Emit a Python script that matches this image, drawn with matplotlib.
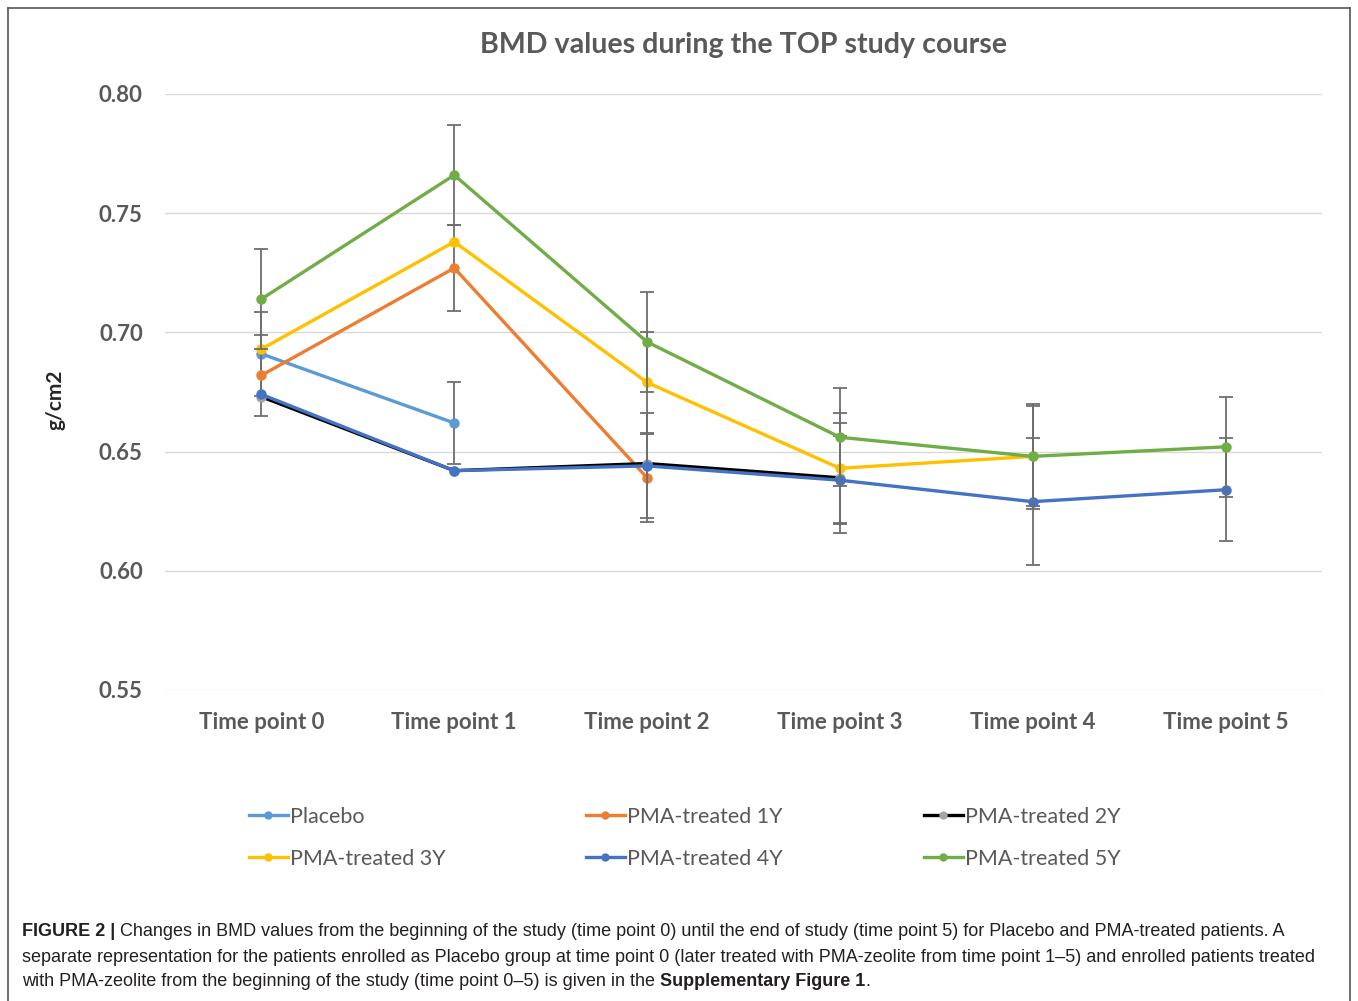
import numpy as np
import matplotlib
matplotlib.use("Agg")
import matplotlib.pyplot as plt
from matplotlib.lines import Line2D

nan = np.nan

time_points = ["Time point 0", "Time point 1", "Time point 2",
               "Time point 3", "Time point 4", "Time point 5"]

placebo = [0.691, 0.662, nan, nan, nan, nan]
placebo_err = [0.0176, 0.017, nan, nan, nan, nan]
pma_1y = [0.682, 0.727, 0.639, nan, nan, nan]
pma_1y_err = [0.017, 0.018, 0.0185, nan, nan, nan]
pma_2y = [0.673, 0.642, 0.645, 0.639, nan, nan]
pma_2y_err = [nan, nan, nan, 0.023, nan, nan]
pma_3y = [0.693, 0.738, 0.679, 0.643, 0.648, nan]
pma_3y_err = [nan, nan, 0.021, 0.023, 0.021, nan]
pma_4y = [0.674, 0.642, 0.644, 0.638, 0.629, 0.634]
pma_4y_err = [nan, nan, 0.022, 0.0185, 0.0265, 0.0215]
pma_5y = [0.714, 0.766, 0.696, 0.656, 0.648, 0.652]
pma_5y_err = [0.021, 0.021, 0.021, 0.0206, 0.022, 0.021]

labels = ["Placebo", "PMA-treated 1Y", "PMA-treated 2Y",
          "PMA-treated 3Y", "PMA-treated 4Y", "PMA-treated 5Y"]
values = [placebo, pma_1y, pma_2y, pma_3y, pma_4y, pma_5y]
errors = [placebo_err, pma_1y_err, pma_2y_err, pma_3y_err, pma_4y_err, pma_5y_err]
colors = ["#5B9BD5", "#ED7D31", "#000000", "#FFC000", "#4472C4", "#70AD47"]
marker_colors = ["#5B9BD5", "#ED7D31", "#A5A5A5", "#FFC000", "#4472C4", "#70AD47"]

W, H = 1358, 1001
fig = plt.figure(figsize=(W / 100, H / 100), dpi=100)
ax = fig.add_axes([165 / W, 1 - 690 / H, (1322 - 165) / W, (690 - 94) / H])

x = np.arange(len(time_points))
grey_txt = "#595959"

for i in range(len(labels)):
    ax.errorbar(x, values[i], yerr=errors[i], fmt="none", ecolor="#6E6E6E",
                elinewidth=1.3, capsize=5, capthick=1.3, zorder=2 + i)
    ax.plot(x, values[i], color=colors[i], lw=2.4, marker="o", markersize=6.5,
            markerfacecolor=marker_colors[i], markeredgecolor=marker_colors[i],
            zorder=2.5 + i)

ax.set_xlim(-0.5, 5.5)
ax.set_ylim(0.55, 0.80)
ax.set_yticks([0.55, 0.60, 0.65, 0.70, 0.75, 0.80])
ax.set_yticklabels(["%.2f" % v for v in [0.55, 0.60, 0.65, 0.70, 0.75, 0.80]])
ax.set_xticks(x)
ax.set_xticklabels(time_points)
ax.grid(axis="y", color="#D9D9D9", lw=1)
ax.set_axisbelow(True)
for s in ax.spines.values():
    s.set_visible(False)
ax.tick_params(length=0, labelsize=16, labelcolor=grey_txt)
ax.tick_params(axis="x", pad=16)
ax.tick_params(axis="y", pad=16)
for t in ax.get_xticklabels() + ax.get_yticklabels():
    t.set_fontfamily("Lato")
    t.set_fontweight("bold")

fig.text(743 / W, 1 - 45 / H, "BMD values during the TOP study course",
         ha="center", va="center", fontsize=20.6, color=grey_txt,
         family="Lato", weight="bold")
fig.text(55 / W, 1 - 400 / H, "g/cm2", rotation=90, ha="center", va="center",
         fontsize=15, color="#262626", family="Lato", weight="bold")

# legend, three columns
handles = [Line2D([], [], color=colors[i], lw=2.4, marker="o", markersize=5,
                  markerfacecolor=marker_colors[i], markeredgecolor=marker_colors[i])
           for i in range(len(labels))]
col_x = [249, 586, 924]
for c in range(3):
    idx = [c, c + 3]
    fig.legend([handles[k] for k in idx], [labels[k] for k in idx],
               loc="upper left", bbox_to_anchor=(col_x[c] / W, 1 - 807 / H),
               frameon=False, handlelength=1.8, handletextpad=0.1,
               labelspacing=1.0, borderpad=0, borderaxespad=0,
               labelcolor=grey_txt, prop={"family": "Lato", "size": 15.5})

# frame round the figure
frame_kw = dict(color="#555555", lw=1.2, transform=fig.transFigure)
fig.add_artist(Line2D([8 / W, 1350 / W], [1 - 8 / H, 1 - 8 / H], **frame_kw))
fig.add_artist(Line2D([8 / W, 8 / W], [0, 1 - 8 / H], **frame_kw))
fig.add_artist(Line2D([1350 / W, 1350 / W], [0, 1 - 8 / H], **frame_kw))

# caption
renderer = fig.canvas.get_renderer()
cap_kw = dict(fontsize=13, color="#231F20", family="Liberation Sans", va="center")


def chain(parts, x0, y):
    xx = x0 / W
    for txt, weight in parts:
        t = fig.text(xx, 1 - y / H, txt, weight=weight, **cap_kw)
        bb = t.get_window_extent(renderer)
        xx = bb.x1 / W


chain([("FIGURE 2 |", "bold"),
       (" Changes in BMD values from the beginning of the study (time point 0) until the end of study "
        "(time point 5) for Placebo and PMA-treated patients. A", "normal")], 22, 932)
chain([("separate representation for the patients enrolled as Placebo group at time point 0 (later treated "
        "with PMA-zeolite from time point 1\u20135) and enrolled patients treated", "normal")], 22, 957)
chain([("with PMA-zeolite from the beginning of the study (time point 0\u20135) is given in the ", "normal"),
       ("Supplementary Figure 1", "bold"), (".", "normal")], 22, 982)

fig.savefig("out.png", dpi=100)
